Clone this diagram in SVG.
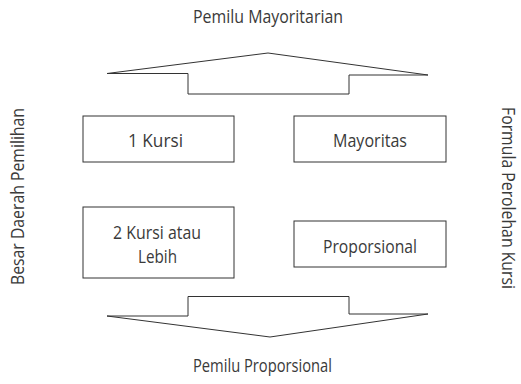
<svg xmlns="http://www.w3.org/2000/svg" width="521" height="384" viewBox="0 0 521 384">
<style>
.t{font-family:"Open Sans","Noto Sans","Liberation Sans",sans-serif;font-size:18px;fill:#3a3a3a;text-anchor:middle}
.b{fill:#fff;stroke:#333;stroke-width:1}
</style>
<rect width="521" height="384" fill="#fff"/>
<g id="connectors">
<polygon class="b" points="107,73.5 268,53 428,75 349,75 349,94 188,94 188,73.5"/>
<polygon class="b" points="188,296.5 349,296.5 349,314 428,314 270,337 107,316 188,316"/>
</g>
<g id="title-top"><text class="t" x="268" y="23" textLength="150" lengthAdjust="spacingAndGlyphs">Pemilu Mayoritarian</text></g>
<g id="title-bottom"><text class="t" x="262.5" y="372" textLength="139" lengthAdjust="spacingAndGlyphs">Pemilu Proporsional</text></g>
<g id="label-left"><text class="t" transform="translate(24,196.5) rotate(-90)" textLength="177" lengthAdjust="spacingAndGlyphs">Besar Daerah Pemilihan</text></g>
<g id="label-right"><text class="t" transform="translate(502,198) rotate(90)" textLength="182" lengthAdjust="spacingAndGlyphs">Formula Perolehan Kursi</text></g>
<g id="node-1kursi"><rect class="b" x="83" y="116" width="151" height="46"/><text class="t" x="155.5" y="147" textLength="55" lengthAdjust="spacingAndGlyphs">1 Kursi</text></g>
<g id="node-mayoritas"><rect class="b" x="294" y="116" width="152" height="46"/><text class="t" x="370" y="147" textLength="74" lengthAdjust="spacingAndGlyphs">Mayoritas</text></g>
<g id="node-2kursi"><rect class="b" x="83" y="207" width="151" height="71"/><text class="t" x="157" y="239" textLength="88" lengthAdjust="spacingAndGlyphs">2 Kursi atau</text><text class="t" x="157.5" y="263" textLength="39" lengthAdjust="spacingAndGlyphs">Lebih</text></g>
<g id="node-proporsional"><rect class="b" x="294" y="221" width="152" height="46"/><text class="t" x="370" y="253" textLength="94" lengthAdjust="spacingAndGlyphs">Proporsional</text></g>
</svg>
